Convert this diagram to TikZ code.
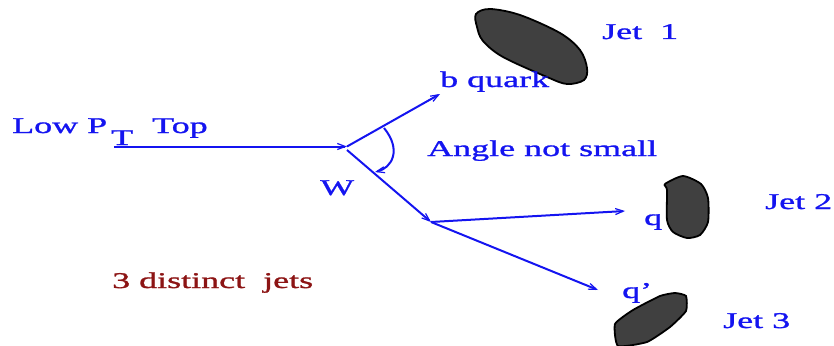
\documentclass[tikz,border=0pt]{standalone}
\usepackage{fontspec}
\setmainfont[FakeStretch=1.6,FakeBold=1.2]{Liberation Serif}
\usetikzlibrary{arrows.meta}
\definecolor{lblue}{RGB}{20,20,240}
\definecolor{ldred}{RGB}{140,20,20}
\definecolor{blob}{RGB}{64,64,64}
\begin{document}
\begin{tikzpicture}[x=1pt,y=-1pt,
  lbl/.style={inner sep=0pt,anchor=base west,text=lblue,font=\fontsize{22.5}{24}\selectfont},
  line/.style={draw=lblue,line width=2pt},
  arr/.style={line,-{Straight Barb[length=8pt,width=6pt,line width=1.2pt]}},
  jetblob/.style={fill=blob,draw=black,line width=1.8pt}]
\useasboundingbox (0,0) rectangle (834,345);
% blobs
\draw[jetblob] plot[smooth cycle,tension=0.55] coordinates{(476,14) (490,9) (520,15) (560,33) (580,50) (587,68) (584,80) (567,84) (547,77) (503,57) (483,41) (477,27)};
\draw[jetblob] plot[smooth cycle,tension=0.4] coordinates{(665,184) (683,176) (701,184) (708,198) (708,222) (700,235) (687,238) (673,232) (667,220) (667,190)};
\draw[jetblob] plot[smooth cycle,tension=0.3] coordinates{(615,324) (633,310) (660,296) (675,293) (686,296) (686,311) (670,327) (647,342) (618,346)};
% coordinates
\coordinate (top) at (114,146.5);
\coordinate (v) at (347,146.5);
\coordinate (bq) at (440,94);
\coordinate (wv) at (347,150);
\coordinate (w) at (431,222);
\coordinate (q) at (625,211);
\coordinate (qp) at (598,290);
\coordinate (a1) at (384,128);
\coordinate (a2) at (375,172);
% connectors
\draw[arr] (top) -- (v);
\draw[arr] (v) -- (bq);
\draw[arr] (wv) -- (w);
\draw[arr] (w) -- (q);
\draw[arr] (w) -- (qp);
\draw[arr] (a1) .. controls (402,150) and (392,168) .. (a2);
% labels
\node[lbl] (low) at (12,133) {Low P};
\node[lbl] (T) at (111,145) {T};
\node[lbl] (topl) at (152,133) {Top};
\node[lbl] (W) at (320,195) {W};
\node[lbl] (bql) at (440,87) {b quark};
\node[lbl] (j1) at (602,39) {Jet\ \ 1};
\node[lbl] (ang) at (427,156) {Angle not small};
\node[lbl] (ql) at (644,225) {q};
\node[lbl] (j2) at (765,209) {Jet 2};
\node[lbl] (qpl) at (622,298) {q'};
\node[lbl] (j3) at (723,328) {Jet 3};
\node[lbl,text=ldred] (dist) at (112,288) {3 distinct\ \ jets};
\end{tikzpicture}
\end{document}
